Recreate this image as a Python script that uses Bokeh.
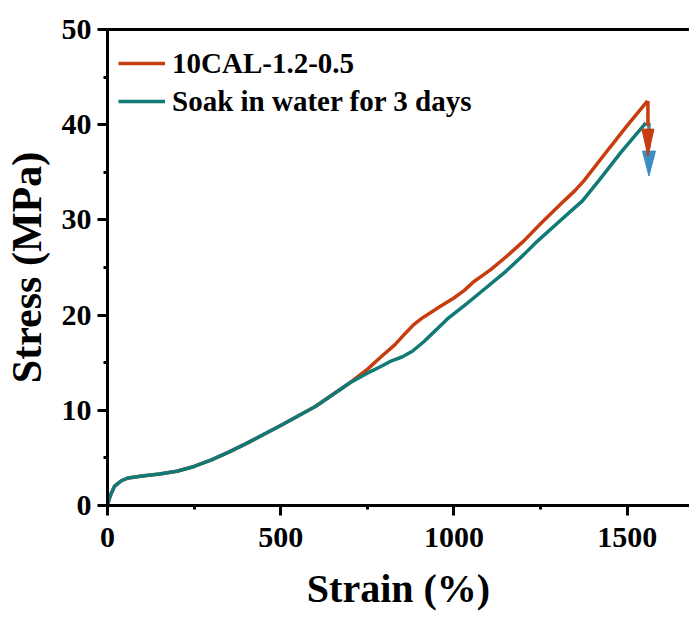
from bokeh.plotting import figure
from bokeh.models import LinearAxis, SingleIntervalTicker, FixedTicker, Range1d, Legend, LegendItem
from bokeh.embed import file_html
from bokeh.resources import INLINE

# ---- data ----
strain_orig = [0, 5, 10, 20, 40, 60, 100, 150, 200, 250, 300, 350, 400, 500, 600, 700,
               750, 789, 830, 860, 884, 905, 930, 960, 1000, 1030, 1057, 1080, 1107, 1150,
               1202, 1250, 1318, 1350, 1375, 1450, 1500, 1559]
stress_orig = [0, 0.7, 1.2, 2.0, 2.6, 2.9, 3.1, 3.3, 3.6, 4.1, 4.8, 5.6, 6.5, 8.4, 10.4, 12.9,
               14.3, 15.6, 16.9, 18.1, 19.0, 19.6, 20.2, 20.9, 21.8, 22.6, 23.5, 24.1, 24.8, 26.1,
               27.8, 29.6, 32.0, 33.1, 34.1, 37.6, 39.9, 42.5]

strain_soak = [0, 5, 10, 20, 40, 60, 100, 150, 200, 250, 300, 350, 400, 500, 600, 700,
               750, 789, 820, 850, 880, 913, 950, 981, 1030, 1077, 1150, 1200, 1242, 1300,
               1340, 1371, 1420, 1482, 1554]
stress_soak = [0, 0.7, 1.2, 2.0, 2.6, 2.9, 3.1, 3.3, 3.6, 4.1, 4.8, 5.6, 6.5, 8.4, 10.4, 12.9,
               13.9, 14.6, 15.2, 15.6, 16.2, 17.2, 18.5, 19.6, 21.0, 22.4, 24.6, 26.3, 27.8, 29.7,
               31.0, 32.0, 34.2, 37.1, 40.2]

# fracture arrows: x, start stress, tip stress
arrow_x = [1560, 1563]
arrow_start = [42.5, 40.2]
arrow_tip = [36.7, 34.6]

series_labels = ["10CAL-1.2-0.5", "Soak in water for 3 days"]
x_ticks_interval = 500
y_ticks_interval = 10

RED = "#C63D0F"
TEAL = "#117A76"
BLUE = "#3C8EC2"
FONT = "Liberation Serif"

X_END, Y_END = 1680, 50
W, H = 689, 617
ML, MR, MT, MB = 107, 0, 29, 112
FW, FH = W - ML - MR, H - MT - MB

p = figure(width=W, height=H, output_backend="svg", toolbar_location=None,
           x_range=Range1d(0, X_END), y_range=Range1d(0, Y_END),
           min_border_left=ML, min_border_right=MR, min_border_top=MT, min_border_bottom=MB)
p.outline_line_color = None
p.grid.visible = False
p.background_fill_color = "white"

for ax, iv in ((p.xaxis[0], x_ticks_interval), (p.yaxis[0], y_ticks_interval)):
    ax.ticker = SingleIntervalTicker(interval=iv, num_minor_ticks=2)
    ax.axis_line_width = 3
    ax.major_tick_line_width = 3
    ax.minor_tick_line_width = 3
    ax.major_tick_in = 0
    ax.major_tick_out = 10
    ax.minor_tick_in = 0
    ax.minor_tick_out = 4
    ax.major_label_text_font = FONT
    ax.major_label_text_font_style = "bold"
    ax.major_label_text_font_size = "30px"
    ax.major_label_text_color = "black"
    ax.axis_label_text_font = FONT
    ax.axis_label_text_font_style = "bold"
    ax.axis_label_text_color = "black"

p.xaxis.axis_label_text_font_size = "40px"
p.yaxis.axis_label_text_font_size = "42px"
p.xaxis.axis_label = "Strain (%)"
p.yaxis.axis_label = "Stress (MPa)"
p.xaxis.major_label_standoff = 12
p.xaxis.axis_label_standoff = 16
p.yaxis.major_label_standoff = 6
p.yaxis.axis_label_standoff = 9

# top frame line only (no ticks, no labels)
top = LinearAxis(ticker=FixedTicker(ticks=[], minor_ticks=[]), axis_line_width=3,
                 major_tick_line_color=None, minor_tick_line_color=None,
                 major_label_standoff=0, major_tick_out=0, minor_tick_out=0)
p.add_layout(top, "above")

r1 = p.line(strain_orig, stress_orig, line_color=RED, line_width=3.5)
r2 = p.line(strain_soak, stress_soak, line_color=TEAL, line_width=3.5)

# arrows (blue first, red on top); head sized in pixels, converted to data units
px_x = FW / X_END
px_y = FH / Y_END
HEAD_LEN = [27, 25]
HEAD_HALF = [6, 6.5]
colors = [RED, BLUE]
for i in [1, 0]:
    base = arrow_tip[i] + HEAD_LEN[i] / px_y
    p.segment(x0=[arrow_x[i]], y0=[arrow_start[i]], x1=[arrow_x[i]], y1=[base + 0.3],
              line_color=colors[i], line_width=3.5)
    hw = HEAD_HALF[i] / px_x
    p.patch([arrow_x[i] - hw, arrow_x[i] + hw, arrow_x[i]], [base, base, arrow_tip[i]],
            fill_color=colors[i], line_color=colors[i], line_width=1)

legend = Legend(items=[LegendItem(label=series_labels[0], renderers=[r1]),
                       LegendItem(label=series_labels[1], renderers=[r2])],
                location=(11, FH - 91), padding=0, margin=0, spacing=0,
                label_text_font=FONT, label_text_font_style="bold", label_text_font_size="29px",
                label_text_color="black",
                label_height=38, glyph_height=38, glyph_width=47, label_standoff=7,
                border_line_color=None, background_fill_alpha=0)
p.add_layout(legend)

open("out.html", "w").write(file_html(p, INLINE))
